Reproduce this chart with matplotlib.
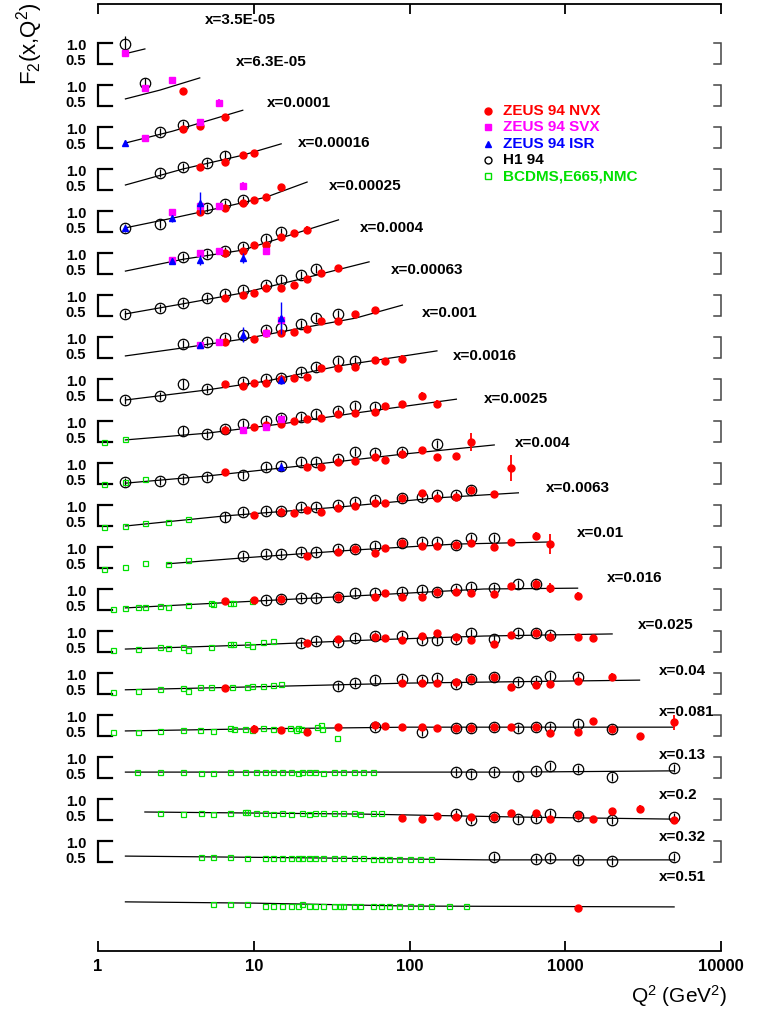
import numpy as np
import matplotlib
matplotlib.use('Agg')
import matplotlib.pyplot as plt
import matplotlib.transforms as mtransforms
from matplotlib.ticker import NullLocator, FixedLocator, FixedFormatter

plt.rcParams['font.family'] = ['Liberation Sans', 'DejaVu Sans']
plt.rcParams['mathtext.fontset'] = 'custom'
plt.rcParams['mathtext.rm'] = 'Liberation Sans'
plt.rcParams['mathtext.it'] = 'Liberation Sans:italic'

# x bins, top to bottom
x_bins = ['3.5E-05', '6.3E-05', '0.0001', '0.00016', '0.00025', '0.0004', '0.00063',
          '0.001', '0.0016', '0.0025', '0.004', '0.0063', '0.01', '0.016', '0.025',
          '0.04', '0.081', '0.13', '0.2', '0.32', '0.51']
n_bins = len(x_bins)
n_brackets = 20

q2_ticks = [1, 10, 100, 1000, 10000]
q2_tick_labels = ['1', '10', '100', '1000', '10000']

# height of the "x=..." label of each bin (in F2 units of that bin)
label_f2 = [1.55, 1.55, 1.57, 1.62, 1.60, 1.60, 1.60, 1.57, 1.55, 1.52, 1.48,
            1.40, 1.33, 1.26, 1.14, 1.05, 1.07, 1.05, 1.10, 1.10, 1.14]

# (bin, Q2, F2[, error])
zeus_nvx = [
    (1, 3.5, 0.86),
    (2, 3.5, 0.95), (2, 4.5, 1.02), (2, 6.5, 1.24),
    (3, 4.5, 1.05), (3, 6.5, 1.17), (3, 8.5, 1.34), (3, 10, 1.38, 0.08),
    (4, 4.5, 0.98), (4, 6.5, 1.07), (4, 8.5, 1.19), (4, 10, 1.26), (4, 12, 1.33), (4, 15, 1.57, 0.08),
    (5, 6.5, 1.00), (5, 8.5, 1.05), (5, 10, 1.19), (5, 12, 1.19), (5, 15, 1.38), (5, 18, 1.48),
    (5, 22, 1.55, 0.10),
    (6, 6.5, 0.93), (6, 8.5, 1.00), (6, 10, 1.05), (6, 12, 1.17), (6, 15, 1.17), (6, 18, 1.24),
    (6, 22, 1.38), (6, 27, 1.52), (6, 35, 1.64, 0.08),
    (7, 6.5, 0.88), (7, 10, 0.95), (7, 12, 1.10), (7, 15, 1.10), (7, 18, 1.12), (7, 22, 1.19),
    (7, 27, 1.38), (7, 35, 1.38), (7, 45, 1.55), (7, 60, 1.64, 0.08),
    (8, 6.5, 0.88), (8, 8.5, 0.83, 0.08), (8, 10, 0.90), (8, 12, 0.90), (8, 15, 1.00), (8, 18, 1.02),
    (8, 22, 1.05), (8, 27, 1.26), (8, 35, 1.26), (8, 45, 1.29), (8, 60, 1.45), (8, 70, 1.43),
    (8, 90, 1.48, 0.10),
    (9, 6.5, 0.79), (9, 10, 0.86), (9, 12, 0.90), (9, 15, 0.93), (9, 18, 1.00), (9, 22, 1.05),
    (9, 27, 1.07), (9, 35, 1.17), (9, 45, 1.19), (9, 60, 1.21), (9, 70, 1.36), (9, 90, 1.40),
    (9, 120, 1.60, 0.10), (9, 150, 1.40, 0.10),
    (10, 6.5, 0.79), (10, 22, 0.90), (10, 27, 0.90), (10, 35, 1.02), (10, 45, 1.05), (10, 60, 1.14),
    (10, 70, 1.07), (10, 90, 1.21), (10, 120, 1.31), (10, 150, 1.14), (10, 200, 1.17, 0.07),
    (10, 250, 1.50, 0.22),
    (11, 10, 0.76), (11, 15, 0.83), (11, 18, 0.81), (11, 22, 0.88), (11, 27, 0.83), (11, 35, 0.93),
    (11, 45, 0.98), (11, 60, 1.05), (11, 70, 1.05), (11, 90, 1.17), (11, 120, 1.29), (11, 150, 1.17),
    (11, 200, 1.19), (11, 250, 1.36), (11, 350, 1.26, 0.08), (11, 450, 1.88, 0.30),
    (12, 22, 0.79), (12, 35, 0.88), (12, 45, 0.95), (12, 60, 0.86), (12, 70, 0.98), (12, 90, 1.10),
    (12, 120, 1.02), (12, 150, 1.02), (12, 200, 1.05), (12, 250, 1.10), (12, 350, 1.00),
    (12, 450, 1.12, 0.06), (12, 650, 1.26, 0.10), (12, 800, 1.07, 0.24),
    (13, 6.5, 0.71), (13, 10, 0.74), (13, 15, 0.76), (13, 35, 0.81), (13, 60, 0.81), (13, 70, 0.90),
    (13, 90, 0.81), (13, 120, 0.81), (13, 150, 0.93), (13, 200, 0.93), (13, 250, 0.90),
    (13, 350, 0.88), (13, 450, 1.07, 0.08), (13, 650, 1.12, 0.10), (13, 800, 1.02, 0.12),
    (13, 1200, 0.83, 0.10),
    (14, 22, 0.71), (14, 35, 0.81), (14, 60, 0.86), (14, 70, 0.83), (14, 90, 0.79), (14, 120, 0.88),
    (14, 150, 0.95), (14, 200, 0.86), (14, 250, 0.79), (14, 350, 0.69), (14, 450, 0.90, 0.06),
    (14, 650, 0.95), (14, 800, 0.86, 0.08), (14, 1200, 0.86, 0.08), (14, 1500, 0.83, 0.07),
    (15, 6.5, 0.64, 0.08), (15, 90, 0.76), (15, 120, 0.76), (15, 150, 0.76), (15, 200, 0.79),
    (15, 250, 0.86), (15, 350, 0.90), (15, 450, 0.67), (15, 650, 0.71, 0.06), (15, 800, 0.74, 0.08),
    (15, 1200, 0.81, 0.08), (15, 2000, 0.90, 0.10),
    (16, 10, 0.67, 0.08), (16, 15, 0.64), (16, 22, 0.60), (16, 35, 0.71), (16, 60, 0.76), (16, 70, 0.74),
    (16, 90, 0.71), (16, 120, 0.71), (16, 150, 0.69), (16, 200, 0.69), (16, 250, 0.69), (16, 350, 0.71),
    (16, 450, 0.71), (16, 650, 0.71), (16, 800, 0.57), (16, 1200, 0.60), (16, 1500, 0.86, 0.08),
    (16, 2000, 0.67), (16, 3000, 0.50), (16, 5000, 0.83, 0.18),
    (18, 90, 0.55), (18, 120, 0.52), (18, 150, 0.60), (18, 200, 0.57), (18, 250, 0.57), (18, 350, 0.57),
    (18, 450, 0.67), (18, 650, 0.67), (18, 800, 0.52), (18, 1200, 0.62), (18, 1500, 0.52),
    (18, 2000, 0.71, 0.08), (18, 3000, 0.76, 0.10), (18, 5000, 0.50),
    (20, 1200, 0.40),
]

zeus_svx = [
    (0, 1.5, 0.76), (1, 2.0, 0.93), (1, 3.0, 1.12),
    (2, 2.0, 0.74), (2, 4.5, 1.12, 0.06), (2, 6.0, 1.57, 0.10),
    (4, 3.0, 0.98, 0.06), (4, 4.5, 1.12, 0.06), (4, 6.0, 1.12), (4, 8.5, 1.60, 0.10),
    (5, 3.0, 0.83, 0.06), (5, 4.5, 1.00), (5, 6.0, 1.05), (5, 12, 1.05, 0.06),
    (7, 4.5, 0.81), (7, 6.0, 0.88), (7, 12, 1.10), (7, 15, 1.40, 0.10),
    (9, 8.5, 0.79), (9, 12, 0.86), (9, 15, 1.05, 0.08),
]

zeus_isr = [
    (2, 1.5, 0.62, 0.08),
    (4, 1.5, 0.60, 0.05), (4, 3.0, 0.83, 0.08), (4, 4.5, 1.19, 0.26),
    (5, 3.0, 0.81, 0.08), (5, 4.5, 0.83, 0.12), (5, 8.5, 0.88, 0.12),
    (7, 4.5, 0.81, 0.08), (7, 8.5, 1.05, 0.18), (7, 15, 1.45, 0.38),
    (8, 15, 0.98, 0.10),
    (10, 15, 0.90, 0.10),
]

h1_94 = [
    (0, 1.5, 0.98, 0.18), (1, 2.0, 1.05, 0.12),
    (2, 2.5, 0.88), (2, 3.5, 1.05),
    (3, 2.5, 0.90), (3, 3.5, 1.05), (3, 5, 1.14), (3, 6.5, 1.31, 0.12),
    (4, 1.5, 0.60), (4, 2.5, 0.69), (4, 5, 1.07), (4, 6.5, 1.17), (4, 8.5, 1.26),
    (5, 3.5, 0.90), (5, 5, 0.98), (5, 6.5, 1.05), (5, 8.5, 1.14), (5, 12, 1.33), (5, 15, 1.50),
    (6, 1.5, 0.55), (6, 2.5, 0.69), (6, 3.5, 0.81), (6, 5, 0.93), (6, 6.5, 1.02), (6, 8.5, 1.12),
    (6, 12, 1.24), (6, 15, 1.36), (6, 20, 1.48), (6, 25, 1.62),
    (7, 3.5, 0.83), (7, 5, 0.88), (7, 6.5, 0.98), (7, 8.5, 1.05), (7, 12, 1.17), (7, 15, 1.21),
    (7, 20, 1.31), (7, 25, 1.45), (7, 35, 1.55),
    (8, 1.5, 0.50), (8, 2.5, 0.60), (8, 3.5, 0.88, 0.12), (8, 5, 0.76), (8, 8.5, 0.93), (8, 12, 1.00),
    (8, 15, 1.02), (8, 20, 1.17), (8, 25, 1.29), (8, 35, 1.43), (8, 45, 1.43),
    (9, 3.5, 0.76, 0.12), (9, 5, 0.69), (9, 6.5, 0.81), (9, 8.5, 0.93), (9, 12, 1.00), (9, 15, 1.07),
    (9, 20, 1.10), (9, 25, 1.17), (9, 35, 1.24), (9, 45, 1.36), (9, 60, 1.33),
    (10, 1.5, 0.55), (10, 2.5, 0.57), (10, 3.5, 0.62), (10, 5, 0.67), (10, 8.5, 0.71), (10, 12, 0.90),
    (10, 15, 0.93), (10, 20, 1.02), (10, 25, 1.02), (10, 35, 1.10), (10, 45, 1.26), (10, 60, 1.24),
    (10, 90, 1.26), (10, 150, 1.45),
    (11, 6.5, 0.71, 0.12), (11, 8.5, 0.83), (11, 12, 0.86), (11, 15, 0.86), (11, 20, 0.95),
    (11, 25, 0.95), (11, 35, 1.00), (11, 45, 1.07), (11, 60, 1.12), (11, 90, 1.17), (11, 120, 1.19),
    (11, 150, 1.24), (11, 200, 1.24), (11, 250, 1.36),
    (12, 8.5, 0.79), (12, 12, 0.83), (12, 15, 0.83), (12, 20, 0.88), (12, 25, 0.88), (12, 35, 0.95),
    (12, 45, 0.95), (12, 60, 1.02), (12, 90, 1.10), (12, 120, 1.12), (12, 150, 1.12), (12, 200, 1.05),
    (12, 250, 1.21), (12, 350, 1.21),
    (13, 12, 0.74), (13, 15, 0.76), (13, 20, 0.79), (13, 25, 0.79), (13, 35, 0.81), (13, 45, 0.90),
    (13, 60, 0.90), (13, 90, 0.93), (13, 120, 0.98), (13, 150, 0.93), (13, 200, 1.00), (13, 250, 1.05),
    (13, 350, 1.02), (13, 500, 1.12), (13, 650, 1.12),
    (14, 20, 0.71), (14, 25, 0.76), (14, 35, 0.74), (14, 45, 0.83), (14, 60, 0.88), (14, 90, 0.88),
    (14, 120, 0.79), (14, 150, 0.79), (14, 200, 0.81), (14, 250, 0.95), (14, 350, 0.81), (14, 500, 0.95),
    (14, 650, 0.95), (14, 800, 0.90),
    (15, 35, 0.69), (15, 45, 0.76), (15, 60, 0.83), (15, 90, 0.86), (15, 120, 0.83), (15, 150, 0.88),
    (15, 200, 0.74), (15, 250, 0.86), (15, 350, 0.90), (15, 500, 0.79), (15, 650, 0.81), (15, 800, 0.93),
    (15, 1200, 0.90),
    (16, 60, 0.71), (16, 120, 0.60), (16, 200, 0.69), (16, 250, 0.69), (16, 350, 0.71), (16, 500, 0.69),
    (16, 650, 0.71), (16, 800, 0.71), (16, 1200, 0.79), (16, 2000, 0.67),
    (17, 200, 0.64), (17, 250, 0.60), (17, 350, 0.64), (17, 500, 0.55), (17, 650, 0.67), (17, 800, 0.79),
    (17, 1200, 0.71), (17, 2000, 0.52), (17, 5000, 0.74),
    (18, 200, 0.64), (18, 250, 0.50), (18, 350, 0.57), (18, 500, 0.52), (18, 650, 0.55), (18, 800, 0.64),
    (18, 1200, 0.60), (18, 2000, 0.50), (18, 5000, 0.57),
    (19, 350, 0.62), (19, 650, 0.57), (19, 800, 0.60), (19, 1200, 0.55), (19, 2000, 0.52), (19, 5000, 0.62),
]

fixed_target = [
    (9, 1.1, 0.50), (9, 1.5, 0.57),
    (10, 1.1, 0.50), (10, 1.5, 0.55), (10, 2.0, 0.62),
    (11, 1.1, 0.48), (11, 1.5, 0.50), (11, 2.0, 0.57), (11, 2.8, 0.60), (11, 3.8, 0.67),
    (12, 1.1, 0.48), (12, 1.5, 0.52), (12, 2.0, 0.62), (12, 2.8, 0.60), (12, 3.8, 0.69),
    (13, 1.25, 0.52), (13, 1.5, 0.55), (13, 1.8, 0.57), (13, 2.0, 0.57), (13, 2.5, 0.60), (13, 2.8, 0.57),
    (13, 3.8, 0.62), (13, 5.3, 0.67), (13, 5.5, 0.64), (13, 7.0, 0.67), (13, 7.4, 0.67), (13, 9.7, 0.71),
    (14, 1.25, 0.55), (14, 1.8, 0.57), (14, 2.5, 0.62), (14, 2.8, 0.60), (14, 3.5, 0.62), (14, 3.8, 0.55),
    (14, 5.3, 0.62), (14, 7.0, 0.69), (14, 7.4, 0.69), (14, 9.0, 0.69), (14, 9.7, 0.64), (14, 11.4, 0.74),
    (14, 13.3, 0.76),
    (15, 1.25, 0.55), (15, 1.8, 0.57), (15, 2.5, 0.62), (15, 3.5, 0.64), (15, 3.8, 0.57), (15, 4.5, 0.67),
    (15, 5.3, 0.67), (15, 7.2, 0.67), (15, 9.0, 0.67), (15, 9.7, 0.69), (15, 11.4, 0.69), (15, 13.3, 0.71),
    (15, 15, 0.74),
    (16, 1.25, 0.60), (16, 1.8, 0.60), (16, 2.5, 0.62), (16, 3.5, 0.64), (16, 4.5, 0.64), (16, 5.5, 0.62),
    (16, 7.0, 0.69), (16, 7.5, 0.67), (16, 8.8, 0.67), (16, 9.7, 0.64), (16, 11.4, 0.69), (16, 13.3, 0.67),
    (16, 17, 0.69), (16, 18.6, 0.64), (16, 19.1, 0.69), (16, 20, 0.67), (16, 25.5, 0.71), (16, 27, 0.76),
    (16, 27.5, 0.67), (16, 34, 0.45),
    (17, 1.77, 0.64), (17, 2.5, 0.64), (17, 3.5, 0.64), (17, 4.57, 0.62), (17, 5.5, 0.62), (17, 7.0, 0.64),
    (17, 8.8, 0.64), (17, 10.3, 0.64), (17, 11.8, 0.64), (17, 13.3, 0.64), (17, 15.2, 0.64), (17, 17.3, 0.64),
    (17, 19.1, 0.62), (17, 20.3, 0.64), (17, 22.5, 0.64), (17, 24.6, 0.64), (17, 27.7, 0.62), (17, 32.6, 0.64),
    (17, 37.2, 0.64), (17, 43.7, 0.64), (17, 50, 0.64), (17, 58, 0.64),
    (18, 2.5, 0.67), (18, 3.5, 0.64), (18, 4.57, 0.67), (18, 5.5, 0.64), (18, 7.0, 0.67), (18, 8.8, 0.69),
    (18, 9.0, 0.69), (18, 10.3, 0.67), (18, 11.8, 0.67), (18, 13.3, 0.64), (18, 15.2, 0.67), (18, 17.3, 0.64),
    (18, 20.3, 0.67), (18, 22.5, 0.64), (18, 24.6, 0.67), (18, 28, 0.67), (18, 32.6, 0.67), (18, 37.2, 0.67),
    (18, 43.7, 0.67), (18, 48, 0.64), (18, 58, 0.67), (18, 66, 0.67),
    (19, 4.57, 0.62), (19, 5.5, 0.62), (19, 7.0, 0.62), (19, 9.0, 0.60), (19, 11.8, 0.60), (19, 13.3, 0.60),
    (19, 15.2, 0.60), (19, 17.3, 0.60), (19, 19.1, 0.60), (19, 20.3, 0.60), (19, 22.5, 0.60), (19, 24.6, 0.60),
    (19, 27.7, 0.60), (19, 32.6, 0.60), (19, 37.2, 0.60), (19, 43.7, 0.60), (19, 50, 0.60), (19, 58, 0.57),
    (19, 66, 0.57), (19, 74, 0.57), (19, 86, 0.57), (19, 100, 0.57), (19, 116, 0.57), (19, 138, 0.57),
    (20, 5.5, 0.50), (20, 7.0, 0.50), (20, 9.0, 0.50), (20, 11.8, 0.45), (20, 13.3, 0.45), (20, 15.2, 0.45),
    (20, 17.3, 0.45), (20, 19.1, 0.45), (20, 20.3, 0.50), (20, 22.5, 0.45), (20, 24.6, 0.45), (20, 27.7, 0.45),
    (20, 32.6, 0.45), (20, 36, 0.45), (20, 37.2, 0.45), (20, 43.7, 0.45), (20, 48, 0.45), (20, 58, 0.45),
    (20, 66, 0.45), (20, 74, 0.45), (20, 86, 0.45), (20, 100, 0.45), (20, 116, 0.45), (20, 138, 0.45),
    (20, 178, 0.45), (20, 232, 0.45),
]

# QCD fit curves, knots (Q2, F2) for each bin
fit_curves = [
    [(1.55, 0.76), (2.0, 0.86)],
    [(1.5, 0.67), (2.5, 0.88), (4.5, 1.17)],
    [(1.5, 0.62), (3.0, 0.90), (8.5, 1.40)],
    [(1.5, 0.62), (3.5, 1.00), (8.5, 1.33), (15, 1.60)],
    [(1.5, 0.60), (3.0, 0.83), (6.5, 1.10), (12, 1.33), (22, 1.69)],
    [(1.5, 0.57), (3.5, 0.85), (8.5, 1.07), (15, 1.36), (35, 1.79)],
    [(1.5, 0.55), (3.5, 0.79), (8.5, 1.05), (20, 1.38), (55, 1.79)],
    [(1.5, 0.55), (3.5, 0.74), (8.5, 0.95), (20, 1.21), (45, 1.45), (90, 1.76)],
    [(1.5, 0.50), (5, 0.74), (12, 0.95), (35, 1.31), (150, 1.67)],
    [(1.5, 0.55), (5, 0.71), (15, 0.93), (45, 1.19), (200, 1.52)],
    [(1.5, 0.52), (5, 0.69), (20, 0.93), (90, 1.21), (350, 1.43)],
    [(1.5, 0.50), (6.5, 0.74), (35, 0.95), (150, 1.17), (500, 1.29)],
    [(2.8, 0.60), (8.5, 0.74), (45, 0.93), (200, 1.07), (800, 1.12)],
    [(1.5, 0.55), (10, 0.71), (60, 0.86), (300, 1.00), (1200, 1.02)],
    [(1.5, 0.57), (10, 0.67), (60, 0.79), (300, 0.88), (2000, 0.93)],
    [(1.5, 0.60), (10, 0.67), (100, 0.76), (3000, 0.83)],
    [(1.5, 0.62), (10, 0.67), (100, 0.71), (5000, 0.71)],
    [(1.5, 0.64), (50, 0.64), (500, 0.64), (5000, 0.67)],
    [(2.0, 0.69), (50, 0.64), (500, 0.57), (5000, 0.52)],
    [(1.5, 0.64), (20, 0.60), (300, 0.55), (5000, 0.55)],
    [(1.5, 0.55), (10, 0.52), (100, 0.45), (5000, 0.43)],
]

RED = '#ff0000'
MAGENTA = '#ff00ff'
BLUE = '#0000ff'
GREEN = '#00e000'


def stacked(rows, default_err=0.0):
    b = np.array([r[0] for r in rows])
    q = np.array([r[1] for r in rows], dtype=float)
    f = np.array([r[2] for r in rows], dtype=float)
    e = np.array([r[3] if len(r) > 3 else default_err for r in rows])
    return q, f + (n_bins - 1 - b), e


fig = plt.figure(figsize=(7.71, 10.10), dpi=100)
ax = fig.add_axes([98 / 771, 1 - 951 / 1010, 623 / 771, 947 / 1010])
ax.set_xscale('log')
ax.set_xlim(1, 10000)
ax.set_ylim(-0.62, 21.93)

# fit curves
for i, knots in enumerate(fit_curves):
    q = [k[0] for k in knots]
    f = np.array([k[1] for k in knots]) + (n_bins - 1 - i)
    ax.plot(q, f, color='black', lw=0.9, zorder=2)

# data
q, y, e = stacked(h1_94, 0.1)
ax.errorbar(q, y, yerr=e, fmt='o', ms=7.5, mfc='none', mec='black', mew=0.9,
            ecolor='black', elinewidth=0.9, capsize=0, zorder=3)
q, y, e = stacked(fixed_target)
ax.plot(q, y, 's', ms=3.6, mfc='none', mec=GREEN, mew=0.9, ls='none', zorder=3)
q, y, e = stacked(zeus_nvx, 0.04)
ax.errorbar(q, y, yerr=e, fmt='o', ms=5, color=RED, ecolor=RED,
            elinewidth=1.3, capsize=0, zorder=4)
q, y, e = stacked(zeus_svx, 0.04)
ax.errorbar(q, y, yerr=e, fmt='s', ms=5, color=MAGENTA, ecolor=MAGENTA,
            elinewidth=1.3, capsize=0, zorder=5)
q, y, e = stacked(zeus_isr, 0.04)
ax.errorbar(q, y, yerr=e, fmt='^', ms=5, color=BLUE, ecolor=BLUE,
            elinewidth=1.0, capsize=0, zorder=6)

# per-bin brackets with 0.5 / 1.0 marks
trans = mtransforms.blended_transform_factory(ax.transAxes, ax.transData)
for i in range(n_brackets):
    off = n_bins - 1 - i
    lo, hi = 0.5 + off, 1.0 + off
    ax.plot([0.0225, 0, 0, 0.0225], [hi, hi, lo, lo], color='black', lw=1.6,
            transform=trans, clip_on=False, solid_joinstyle='miter')
    ax.plot([0.989, 1, 1, 0.989], [hi, hi, lo, lo], color='#444444', lw=1.1,
            transform=trans, clip_on=False, solid_joinstyle='miter')
    ax.text(-0.019, hi - 0.07, '1.0', transform=trans, ha='right', va='center',
            fontsize=10.5, fontweight='bold')
    ax.text(-0.019, lo + 0.07, '0.5', transform=trans, ha='right', va='center',
            fontsize=10.5, fontweight='bold')

# bin labels
for i, name in enumerate(x_bins):
    xf = min(0.1715 + 0.0497 * i, 0.9006)
    ax.text(xf, label_f2[i] + (n_bins - 1 - i), 'x=' + name, transform=trans,
            ha='left', va='center', fontsize=11, fontweight='bold')

# axes frame: only top and bottom lines
ax.spines['left'].set_visible(False)
ax.spines['right'].set_visible(False)
ax.spines['top'].set_linewidth(1.3)
ax.spines['bottom'].set_linewidth(1.3)
ax.yaxis.set_visible(False)
ax.xaxis.set_major_locator(FixedLocator(q2_ticks))
ax.xaxis.set_major_formatter(FixedFormatter(q2_tick_labels))
ax.xaxis.set_minor_locator(NullLocator())
ax.tick_params(axis='x', which='major', direction='in', length=7, width=1.3,
               top=True, bottom=True, pad=6, labelsize=12)
for lab in ax.get_xticklabels():
    lab.set_fontweight('bold')

fig.text(727 / 771, 1 - 996 / 1010, 'Q$^2$ (GeV$^2$)', ha='right', va='center', fontsize=15)
fig.text(30 / 771, 1 - 44 / 1010, 'F$_2$(x,Q$^2$)', ha='center', va='center',
         rotation=90, fontsize=16)

# legend
legend_rows = [('ZEUS 94 NVX', RED, 'o', RED),
               ('ZEUS 94 SVX', MAGENTA, 's', MAGENTA),
               ('ZEUS 94 ISR', BLUE, '^', BLUE),
               ('H1 94', 'black', 'o', 'none'),
               ('BCDMS,E665,NMC', GREEN, 's', 'none')]
for k, (lab, col, mk, fc) in enumerate(legend_rows):
    yy = 1 - (111 + 16.3 * k) / 1010
    fig.lines.append(plt.Line2D([488 / 771], [yy], marker=mk, ms=5, mfc=fc, mec=col,
                                mew=1.0, ls='none', transform=fig.transFigure))
    fig.text(503 / 771, yy, lab, color=col, ha='left', va='center', fontsize=11,
             fontweight='bold')

fig.savefig('out.png', dpi=100)
